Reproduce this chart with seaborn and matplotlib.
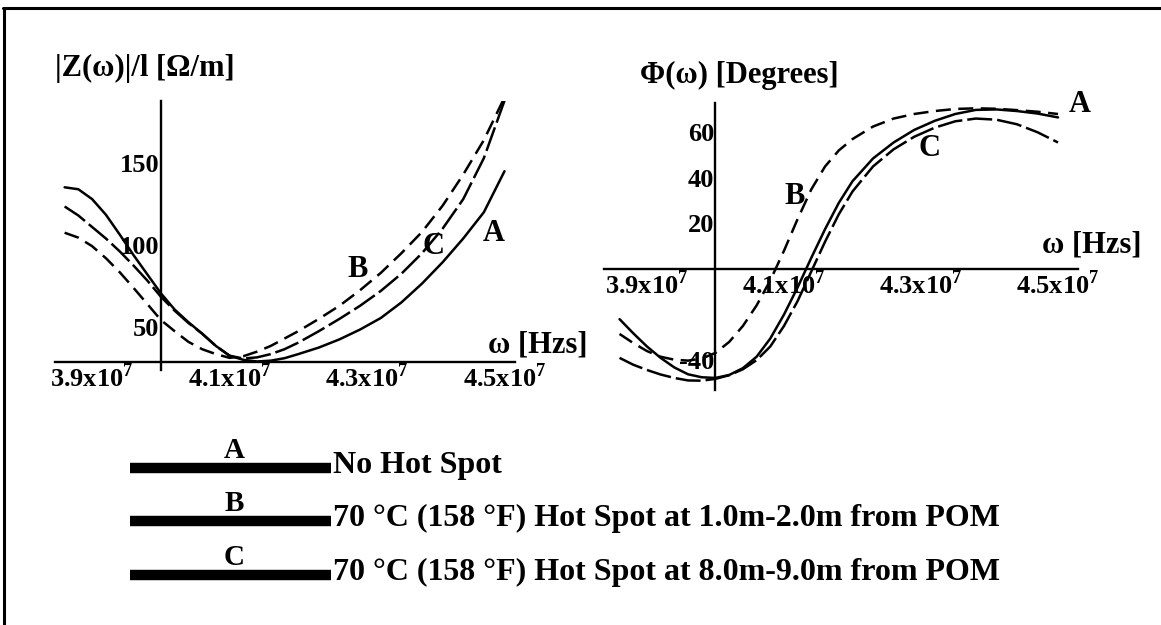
import matplotlib
matplotlib.use("Agg")
import matplotlib.pyplot as plt
from matplotlib.lines import Line2D
import seaborn as sns
import pandas as pd

# frequency grid, in units of 1e7 Hz
omega = [3.86, 3.88, 3.90, 3.92, 3.94, 3.96, 3.98, 4.00, 4.02, 4.04, 4.06, 4.08, 4.10, 4.12,
         4.14, 4.16, 4.18, 4.20, 4.23, 4.26, 4.29, 4.32, 4.35, 4.38, 4.41, 4.44, 4.47, 4.50]

# |Z(w)|/l  [Ohm/m]
z_A = [135.2, 134.0, 128.0, 118.5, 106.5, 94.0, 82.3, 70.6, 60.7, 53.0, 46.0, 38.5, 32.5, 30.0,
       29.0, 29.5, 31.0, 33.5, 37.5, 42.5, 48.5, 55.5, 65.0, 76.5, 89.5, 104.0, 120.0, 145.0]
z_B = [107.5, 104.5, 99.3, 92.0, 83.5, 74.0, 64.2, 54.3, 47.5, 41.0, 36.5, 33.5, 31.2, 32.2,
       35.0, 38.5, 43.0, 47.5, 55.0, 63.0, 72.5, 83.0, 95.0, 108.0, 124.0, 143.0, 164.0, 190.0]
z_C = [123.5, 118.0, 111.0, 104.0, 96.2, 87.6, 78.5, 68.5, 60.0, 52.5, 46.0, 38.5, 32.5, 30.8,
       31.5, 33.5, 36.5, 40.5, 47.5, 55.0, 63.0, 72.0, 82.5, 95.0, 110.0, 128.0, 153.0, 188.0]

# Phi(w) [degrees]
phi_A = [-22.0, -28.2, -34.0, -39.0, -43.2, -46.2, -47.5, -47.8, -46.5, -43.5, -38.5, -30.5, -20.0, -8.0,
         5.0, 17.5, 29.0, 38.5, 48.5, 55.5, 61.0, 65.0, 68.0, 69.8, 70.0, 69.3, 68.2, 66.5]
phi_B = [-28.5, -32.5, -36.0, -38.5, -39.8, -40.2, -39.3, -36.8, -32.0, -25.0, -16.0, -5.0, 8.0, 22.0,
         35.0, 45.0, 52.0, 57.0, 62.5, 66.0, 68.0, 69.3, 70.2, 70.5, 70.3, 69.7, 69.0, 68.0]
phi_C = [-39.0, -42.0, -44.3, -46.3, -47.8, -48.9, -49.0, -48.2, -46.6, -44.0, -40.0, -34.0, -25.0, -14.0,
         -1.0, 12.0, 24.0, 34.0, 45.0, 52.5, 58.0, 62.0, 64.8, 66.0, 65.5, 63.5, 60.0, 55.5]

curve_names = ["A", "B", "C"]
legend_texts = ["No Hot Spot",
                "70 \u00b0C (158 \u00b0F) Hot Spot at 1.0m-2.0m from POM",
                "70 \u00b0C (158 \u00b0F) Hot Spot at 8.0m-9.0m from POM"]
x_ticks = [3.9, 4.1, 4.3, 4.5]
x_ticklabels = [r"3.9x10$^{\mathbf{7}}$", r"4.1x10$^{\mathbf{7}}$",
                r"4.3x10$^{\mathbf{7}}$", r"4.5x10$^{\mathbf{7}}$"]
z_ticks = [50, 100, 150]
phi_ticks = [-40, 20, 40, 60]

df_z = pd.DataFrame({"omega": omega, "A": z_A, "B": z_B, "C": z_C})
df_phi = pd.DataFrame({"omega": omega, "A": phi_A, "B": phi_B, "C": phi_C})

sns.set_theme(style="white")
plt.rcParams["font.family"] = ["Liberation Serif", "DejaVu Serif"]
plt.rcParams["font.weight"] = "bold"
plt.rcParams["text.color"] = "black"
plt.rcParams["mathtext.fontset"] = "custom"
plt.rcParams["mathtext.rm"] = "Liberation Serif:bold"
plt.rcParams["mathtext.bf"] = "Liberation Serif:bold"

W, H = 1161, 625
fig = plt.figure(figsize=(W / 100, H / 100), dpi=100)
fig.patch.set_facecolor("white")

styles = {"A": "-", "B": (0, (6, 3)), "C": (0, (10, 2))}


def px_rect(left, top, right, bottom):
    return [left / W, 1 - bottom / H, (right - left) / W, (bottom - top) / H]


def math_axes(ax, x0, y0):
    # Mathematica-like axes crossing at (x0, y0)
    for s in ["top", "right"]:
        ax.spines[s].set_visible(False)
    ax.spines["left"].set_position(("data", x0))
    ax.spines["bottom"].set_position(("data", y0))
    for s in ["left", "bottom"]:
        ax.spines[s].set_color("black")
        ax.spines[s].set_linewidth(1.7)
    ax.set_facecolor("none")
    ax.tick_params(axis="both", direction="in", length=5, width=1.2, color="black",
                   labelsize=19, labelcolor="black", pad=1)
    ax.set_xticks(x_ticks, labels=x_ticklabels)
    ax.set_xticks([4.0, 4.2, 4.4], minor=True)
    ax.tick_params(axis="x", which="minor", direction="in", length=3, width=1.0)
    for lab in ax.get_xticklabels() + ax.get_yticklabels():
        lab.set_fontweight("bold")
    ax.set_xlabel("")
    ax.set_ylabel("")


# --- left: impedance magnitude
ax1 = fig.add_axes(px_rect(55, 100.7, 514.8, 370))
for name in curve_names:
    sns.lineplot(data=df_z, x="omega", y=name, ax=ax1, color="black", lw=1.8,
                 linestyle=styles[name], sort=False)
ax1.set_xlim(3.846, 4.515)
ax1.set_ylim(23.8, 188)
math_axes(ax1, 4.0, 28.7)
ax1.set_yticks(z_ticks, labels=[str(t) for t in z_ticks])
ax1.text(4.485, 107, "A", fontsize=22, fontweight="bold", ha="center", va="center")
ax1.text(4.287, 85, "B", fontsize=22, fontweight="bold", ha="center", va="center")
ax1.text(4.397, 99, "C", fontsize=22, fontweight="bold", ha="center", va="center")

# --- right: phase
ax2 = fig.add_axes(px_rect(603.8, 102.6, 1077.9, 389.8))
for name in curve_names:
    sns.lineplot(data=df_phi, x="omega", y=name, ax=ax2, color="black", lw=1.8,
                 linestyle=styles[name], sort=False)
ax2.set_xlim(3.837, 4.529)
ax2.set_ylim(-53, 73)
math_axes(ax2, 4.0, 0)
ax2.set_yticks(phi_ticks, labels=[str(t) for t in phi_ticks])
ax2.text(4.532, 72, "A", fontsize=22, fontweight="bold", ha="center", va="center")
ax2.text(4.116, 31.6, "B", fontsize=22, fontweight="bold", ha="center", va="center")
ax2.text(4.313, 53, "C", fontsize=22, fontweight="bold", ha="center", va="center")

# axis titles
fig.text(55 / W, 1 - 68 / H, "|Z(\u03c9)|/l [\u03a9/m]", fontsize=22, fontweight="bold", va="center")
fig.text(588 / W, 1 - 345 / H, "\u03c9 [Hzs]", fontsize=22, fontweight="bold", va="center", ha="right")
fig.text(640 / W, 1 - 75 / H, "\u03a6(\u03c9) [Degrees]", fontsize=22, fontweight="bold", va="center")
fig.text(1142 / W, 1 - 245 / H, "\u03c9 [Hzs]", fontsize=22, fontweight="bold", va="center", ha="right")

# legend block
row_y = [468, 521, 575]
for name, txt, y in zip(curve_names, legend_texts, row_y):
    fig.add_artist(Line2D([130 / W, 331 / W], [1 - y / H, 1 - y / H], color="black",
                          lw=7.5, solid_capstyle="butt"))
    fig.text(234 / W, 1 - (y - 4) / H, name, fontsize=21, fontweight="bold",
             ha="center", va="bottom")
    fig.text(333 / W, 1 - (y + 5) / H, txt, fontsize=23, fontweight="bold",
             ha="left", va="baseline")

# frame edges (top and left only, as scanned)
fig.add_artist(Line2D([3 / W, 1], [1 - 8 / H, 1 - 8 / H], color="black", lw=2.2))
fig.add_artist(Line2D([4 / W, 4 / W], [1 - 8 / H, 0], color="black", lw=2.2))

fig.savefig("out.png", dpi=100, facecolor="white")
